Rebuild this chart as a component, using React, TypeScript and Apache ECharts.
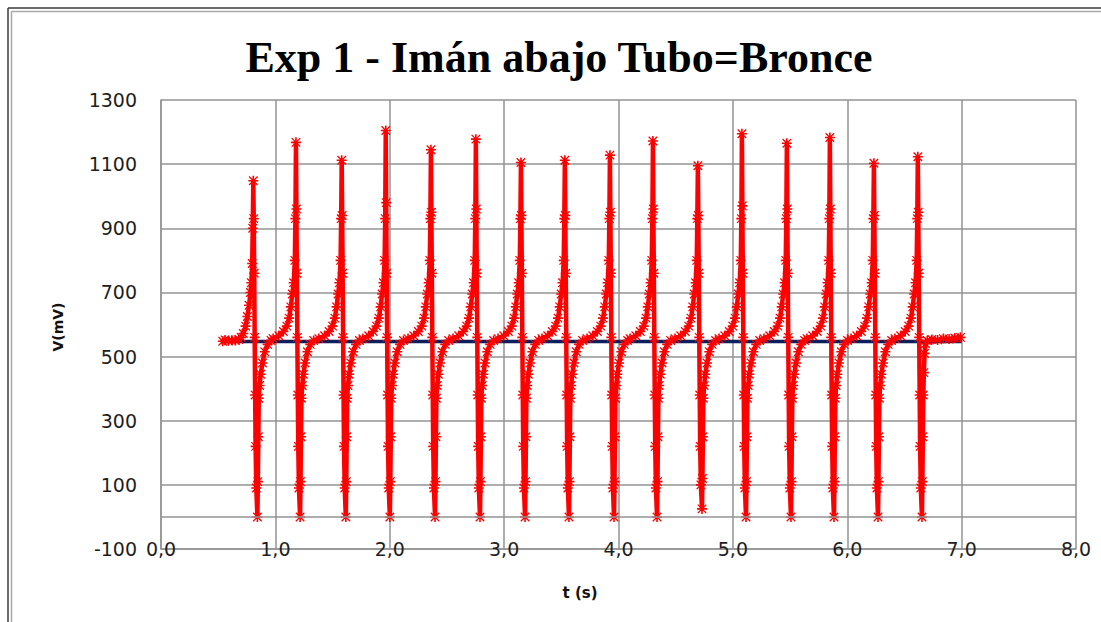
import React, { useEffect, useRef } from "react";
import * as echarts from "echarts";

const TITLE = "Exp 1 - Imán abajo Tubo=Bronce";
const X_NAME = "t (s)";
const Y_NAME = "V(mV)";

const xTickLabels = ["0,0", "1,0", "2,0", "3,0", "4,0", "5,0", "6,0", "7,0", "8,0"];
const yTicks = [-100, 100, 300, 500, 700, 900, 1100, 1300];

// navy reference level (mV)
const baseline: [number, number][] = [
  [0.54, 547],
  [7.0, 547],
];

// measured signal, one row per magnet pass: [t (s), V (mV)]
const redCycles: [number, number][][] = [
  [[0.540,548],[0.560,552],[0.590,549],[0.620,551],[0.650,550],[0.680,553],[0.700,560],[0.720,572],[0.740,595],[0.755,625],[0.770,660],[0.782,700],[0.790,730],[0.797,790],[0.802,900],[0.807,1048],[0.811,930],[0.815,760],[0.819,560],[0.823,380],[0.827,220],[0.833,90],[0.843,0],[0.847,110],[0.851,250],[0.855,370],[0.862,410],[0.872,445],[0.887,480],[0.907,515],[0.932,538],[0.962,550]],
  [[0.980,556],[1.030,565],[1.070,578],[1.100,595],[1.120,620],[1.135,655],[1.148,695],[1.160,730],[1.170,800],[1.175,930],[1.180,1168],[1.184,960],[1.188,760],[1.192,560],[1.196,380],[1.200,220],[1.206,90],[1.216,0],[1.220,110],[1.224,250],[1.228,370],[1.235,410],[1.245,445],[1.260,480],[1.280,515],[1.305,538],[1.335,550]],
  [[1.380,556],[1.430,565],[1.470,578],[1.500,595],[1.520,620],[1.535,655],[1.548,695],[1.560,730],[1.570,800],[1.575,930],[1.580,1112],[1.584,940],[1.588,760],[1.592,560],[1.596,380],[1.600,220],[1.606,90],[1.616,0],[1.620,110],[1.624,250],[1.628,370],[1.635,410],[1.645,445],[1.660,480],[1.680,515],[1.705,538],[1.735,550]],
  [[1.765,556],[1.815,565],[1.855,578],[1.885,595],[1.905,620],[1.920,655],[1.933,695],[1.945,730],[1.955,800],[1.960,930],[1.965,1205],[1.969,980],[1.973,760],[1.977,560],[1.981,380],[1.985,220],[1.991,90],[2.001,0],[2.005,110],[2.009,250],[2.013,370],[2.020,410],[2.030,445],[2.045,480],[2.065,515],[2.090,538],[2.120,550]],
  [[2.160,556],[2.210,565],[2.250,578],[2.280,595],[2.300,620],[2.315,655],[2.328,695],[2.340,730],[2.350,800],[2.355,930],[2.360,1145],[2.364,950],[2.368,760],[2.372,560],[2.376,380],[2.380,220],[2.386,90],[2.396,0],[2.400,110],[2.404,250],[2.408,370],[2.415,410],[2.425,445],[2.440,480],[2.460,515],[2.485,538],[2.515,550]],
  [[2.553,556],[2.603,565],[2.643,578],[2.673,595],[2.693,620],[2.708,655],[2.721,695],[2.733,730],[2.743,800],[2.748,930],[2.753,1178],[2.757,960],[2.761,760],[2.765,560],[2.769,380],[2.773,220],[2.779,90],[2.789,0],[2.793,110],[2.797,250],[2.801,370],[2.808,410],[2.818,445],[2.833,480],[2.853,515],[2.878,538],[2.908,550]],
  [[2.947,556],[2.997,565],[3.037,578],[3.067,595],[3.087,620],[3.102,655],[3.115,695],[3.127,730],[3.137,800],[3.142,930],[3.147,1105],[3.151,940],[3.155,760],[3.159,560],[3.163,380],[3.167,220],[3.173,90],[3.183,0],[3.187,110],[3.191,250],[3.195,370],[3.202,410],[3.212,445],[3.227,480],[3.247,515],[3.272,538],[3.302,550]],
  [[3.331,556],[3.381,565],[3.421,578],[3.451,595],[3.471,620],[3.486,655],[3.499,695],[3.511,730],[3.521,800],[3.526,930],[3.531,1112],[3.535,940],[3.539,760],[3.543,560],[3.547,380],[3.551,220],[3.557,90],[3.567,0],[3.571,110],[3.575,250],[3.579,370],[3.586,410],[3.596,445],[3.611,480],[3.631,515],[3.656,538],[3.686,550]],
  [[3.725,556],[3.775,565],[3.815,578],[3.845,595],[3.865,620],[3.880,655],[3.893,695],[3.905,730],[3.915,800],[3.920,930],[3.925,1128],[3.929,950],[3.933,760],[3.937,560],[3.941,380],[3.945,220],[3.951,90],[3.961,0],[3.965,110],[3.969,250],[3.973,370],[3.980,410],[3.990,445],[4.005,480],[4.025,515],[4.050,538],[4.080,550]],
  [[4.101,556],[4.151,565],[4.191,578],[4.221,595],[4.241,620],[4.256,655],[4.269,695],[4.281,730],[4.291,800],[4.296,930],[4.301,1172],[4.305,960],[4.309,760],[4.313,560],[4.317,380],[4.321,220],[4.327,90],[4.337,0],[4.341,110],[4.345,250],[4.349,370],[4.356,410],[4.366,445],[4.381,480],[4.401,515],[4.426,538],[4.456,550]],
  [[4.494,556],[4.544,565],[4.584,578],[4.614,595],[4.634,620],[4.649,655],[4.662,695],[4.674,730],[4.684,800],[4.689,930],[4.694,1095],[4.698,940],[4.702,760],[4.706,560],[4.710,380],[4.714,220],[4.720,100],[4.730,25],[4.734,120],[4.738,250],[4.742,370],[4.749,410],[4.759,445],[4.774,480],[4.794,515],[4.819,538],[4.849,550]],
  [[4.879,556],[4.929,565],[4.969,578],[4.999,595],[5.019,620],[5.034,655],[5.047,695],[5.059,730],[5.069,800],[5.074,930],[5.079,1195],[5.083,970],[5.087,760],[5.091,560],[5.095,380],[5.099,220],[5.105,90],[5.115,0],[5.119,110],[5.123,250],[5.127,370],[5.134,410],[5.144,445],[5.159,480],[5.179,515],[5.204,538],[5.234,550]],
  [[5.272,556],[5.322,565],[5.362,578],[5.392,595],[5.412,620],[5.427,655],[5.440,695],[5.452,730],[5.462,800],[5.467,930],[5.472,1165],[5.476,960],[5.480,760],[5.484,560],[5.488,380],[5.492,220],[5.498,90],[5.508,0],[5.512,110],[5.516,250],[5.520,370],[5.527,410],[5.537,445],[5.552,480],[5.572,515],[5.597,538],[5.627,550]],
  [[5.648,556],[5.698,565],[5.738,578],[5.768,595],[5.788,620],[5.803,655],[5.816,695],[5.828,730],[5.838,800],[5.843,930],[5.848,1183],[5.852,960],[5.856,760],[5.860,560],[5.864,380],[5.868,220],[5.874,90],[5.884,0],[5.888,110],[5.892,250],[5.896,370],[5.903,410],[5.913,445],[5.928,480],[5.948,515],[5.973,538],[6.003,550]],
  [[6.033,556],[6.083,565],[6.123,578],[6.153,595],[6.173,620],[6.188,655],[6.201,695],[6.213,730],[6.223,800],[6.228,930],[6.233,1103],[6.237,940],[6.241,760],[6.245,560],[6.249,380],[6.253,220],[6.259,90],[6.269,0],[6.273,110],[6.277,250],[6.281,370],[6.288,410],[6.298,445],[6.313,480],[6.333,515],[6.358,538],[6.388,550]],
  [[6.417,556],[6.467,565],[6.507,578],[6.537,595],[6.557,620],[6.572,655],[6.585,695],[6.597,730],[6.607,800],[6.612,930],[6.617,1123],[6.621,950],[6.625,760],[6.629,560],[6.633,380],[6.637,220],[6.643,90],[6.653,0],[6.657,110],[6.661,250],[6.665,380],[6.670,450],[6.676,510],[6.685,540],[6.700,550],[6.740,553],[6.790,552],[6.840,556],[6.890,555],[6.940,558],[6.990,560]],
];

const STAR =
  "path://M4.2,0H5.8V4.2H10V5.8H5.8V10H4.2V5.8H0V4.2H4.2Z M1.2,0.3L9.7,8.8L8.8,9.7L0.3,1.2Z M8.8,0.3L9.7,1.2L1.2,9.7L0.3,8.8Z";

const GRID_COLOR = "#939393";
const LABEL_FONT = "DejaVu Sans";

export default function App() {
  const ref = useRef<HTMLDivElement>(null);

  useEffect(() => {
    if (!ref.current) return;
    const chart = echarts.init(ref.current, null, { renderer: "svg" });
    const redData = redCycles.flat();

    chart.setOption({
      animation: false,
      backgroundColor: "#ffffff",
      grid: { left: 161, right: 25, top: 100, bottom: 73, containLabel: false },
      xAxis: {
        type: "value",
        min: 0,
        max: 8,
        interval: 1,
        axisLine: { show: true, onZero: false, lineStyle: { color: GRID_COLOR, width: 1.5 } },
        axisTick: { show: false },
        splitLine: { show: true, lineStyle: { color: GRID_COLOR, width: 1.5 } },
        axisLabel: {
          formatter: (v: number) => xTickLabels[Math.round(v)] ?? "",
          fontFamily: LABEL_FONT,
          fontSize: 19,
          color: "#1e1e1e",
          verticalAlign: "middle",
          margin: 0,
        },
      },
      yAxis: {
        type: "value",
        min: yTicks[0],
        max: yTicks[yTicks.length - 1],
        interval: 200,
        axisLine: { show: true, lineStyle: { color: GRID_COLOR, width: 1.5 } },
        axisTick: { show: false },
        splitLine: { show: true, lineStyle: { color: GRID_COLOR, width: 1.5 } },
        axisLabel: {
          formatter: (v: number) => String(Math.round(v)),
          fontFamily: LABEL_FONT,
          fontSize: 19,
          color: "#1e1e1e",
          margin: 24,
        },
      },
      series: [
        {
          type: "line",
          data: baseline,
          symbol: "none",
          lineStyle: { color: "#0b1f5c", width: 3.5 },
          z: 2,
          markLine: {
            silent: true,
            symbol: "none",
            label: { show: false },
            lineStyle: { color: GRID_COLOR, width: 1.5, type: "solid" },
            data: [{ yAxis: 0 }],
          },
        },
        {
          type: "line",
          data: redData,
          symbol: STAR,
          symbolSize: 10,
          showAllSymbol: true,
          itemStyle: { color: "#ff0000" },
          lineStyle: { color: "#ff0000", width: 4.5 },
          z: 3,
        },
      ],
      graphic: [
        { type: "line", shape: { x1: 8, y1: 8, x2: 1101, y2: 8 }, style: { stroke: "#3a3a3a", lineWidth: 1.5 } },
        { type: "line", shape: { x1: 8, y1: 8, x2: 8, y2: 622 }, style: { stroke: "#3a3a3a", lineWidth: 1.5 } },
        { type: "line", shape: { x1: 11.5, y1: 11.5, x2: 1101, y2: 11.5 }, style: { stroke: "#a8a8a8", lineWidth: 1.5 } },
        { type: "line", shape: { x1: 11.5, y1: 11.5, x2: 11.5, y2: 622 }, style: { stroke: "#a8a8a8", lineWidth: 1.5 } },
        {
          type: "text",
          x: 559,
          y: 57,
          style: {
            text: TITLE,
            fontFamily: "Liberation Serif",
            fontWeight: "bold",
            fontSize: 44,
            fill: "#000",
            align: "center",
            verticalAlign: "middle",
          },
        },
        {
          type: "text",
          x: 58,
          y: 327,
          rotation: Math.PI / 2,
          style: {
            text: Y_NAME,
            fontFamily: LABEL_FONT,
            fontWeight: "bold",
            fontSize: 14,
            fill: "#111",
            align: "center",
            verticalAlign: "middle",
          },
        },
        {
          type: "text",
          x: 580,
          y: 593,
          style: {
            text: X_NAME,
            fontFamily: LABEL_FONT,
            fontWeight: "bold",
            fontSize: 15,
            fill: "#111",
            align: "center",
            verticalAlign: "middle",
          },
        },
      ],
    });

    return () => chart.dispose();
  }, []);

  return (
    <div
      ref={ref}
      style={{ position: "fixed", left: 0, top: 0, width: 1101, height: 622, background: "#fff" }}
    />
  );
}
